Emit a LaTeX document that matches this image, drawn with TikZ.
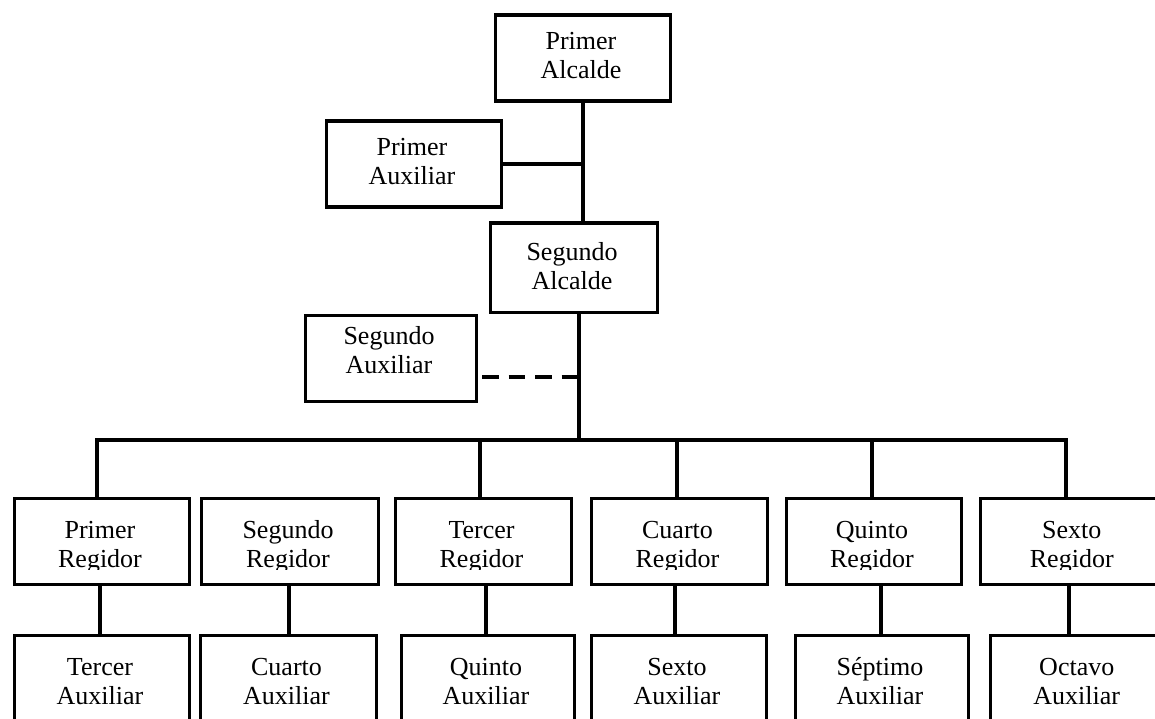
\documentclass[tikz,border=0pt]{standalone}
\usepackage{fontspec}
\setmainfont{Liberation Serif}
\begin{document}
\begin{tikzpicture}[x=1pt,y=-1pt,
  boxstyle/.style={draw=black,line width=3.2pt,inner sep=0pt,anchor=north west},
  conn/.style={line width=3.4pt},
  dashconn/.style={line width=3.4pt,dash pattern=on 16.5pt off 10pt},
  lbl/.style={anchor=base,inner sep=0pt,font=\fontsize{26}{29}\selectfont}]
\useasboundingbox (0,0) rectangle (1155,719);
\clip (0,0) rectangle (1155,719);
% #1 name, #2 x1, #3 y1, #4 x2, #5 y2, #6 line1, #7 line2, #8 first baseline offset, #9 clip bottom
\newcommand\orgbox[9]{%
  \node[boxstyle,minimum width={#4pt-#2pt},minimum height={#5pt-#3pt}] (#1) at (#2,#3) {};
  \begin{scope}
    \clip (#2,#3) rectangle (#4,#9);
    \node[lbl] (#1l1) at ({(#2+#4)/2},{#3+#8}) {#6};
    \node[lbl] (#1l2) at ({(#2+#4)/2},{#3+#8+29}) {#7};
  \end{scope}}
\orgbox{PAl}{493.5}{13.5}{668.5}{99.5}{Primer}{Alcalde}{36}{99}
\orgbox{PAux}{324.5}{119.5}{499.5}{205.5}{Primer}{Auxiliar}{36}{205}
\orgbox{SAl}{488.5}{221.5}{655.5}{310.5}{Segundo}{Alcalde}{39}{310}
\orgbox{SAux}{303.5}{313.5}{474.5}{399.5}{Segundo}{Auxiliar}{31}{399}
% regidores
\orgbox{R1}{12.5}{496.5}{187.5}{582.5}{Primer}{Regidor}{42}{569}
\orgbox{R2}{199.5}{496.5}{376.5}{582.5}{Segundo}{Regidor}{42}{569}
\orgbox{R3}{393.5}{496.5}{569.5}{582.5}{Tercer}{Regidor}{42}{569}
\orgbox{R4}{589.5}{496.5}{765.5}{582.5}{Cuarto}{Regidor}{42}{569}
\orgbox{R5}{784.5}{496.5}{959.5}{582.5}{Quinto}{Regidor}{42}{569}
\orgbox{R6}{978.5}{496.5}{1165}{582.5}{Sexto}{Regidor}{42}{569}
% auxiliares
\orgbox{A3}{12.5}{633.5}{187.5}{740}{Tercer}{Auxiliar}{42}{706}
\orgbox{A4}{198.5}{633.5}{374.5}{740}{Cuarto}{Auxiliar}{42}{706}
\orgbox{A5}{399.5}{633.5}{572.5}{740}{Quinto}{Auxiliar}{42}{706}
\orgbox{A6}{589.5}{633.5}{764.5}{740}{Sexto}{Auxiliar}{42}{706}
\orgbox{A7}{793.5}{633.5}{966.5}{740}{Séptimo}{Auxiliar}{42}{706}
\orgbox{A8}{988.5}{633.5}{1165}{740}{Octavo}{Auxiliar}{42}{706}
% coordinates
\coordinate (t1) at (583,0);
\coordinate (t2) at (579,0);
\coordinate (bus) at (0,440);
\coordinate (dashy) at (0,377);
\coordinate (dashx) at (482,0);
\coordinate (busL) at (97,440);
\coordinate (busR) at (1066,440);
% connectors
\draw[conn] (PAl.south -| t1) -- (SAl.north -| t1);
\draw[conn] (PAux.east) -- (PAux.east -| t1);
\draw[conn] (SAl.south -| t2) -- ([yshift=1.7pt]bus -| t2);
\draw[dashconn] (dashx |- dashy) -- (t2 |- dashy);
\draw[conn] ([xshift=-1.7pt]busL) -- ([xshift=1.7pt]busR);
\draw[conn] (busL) -- (R1.north -| busL);
\draw[conn] (480,440) -- (R3.north -| 480,0);
\draw[conn] (677,440) -- (R4.north -| 677,0);
\draw[conn] (872,440) -- (R5.north -| 872,0);
\draw[conn] (busR) -- (R6.north -| busR);
\draw[conn] (R1.south -| 100,0) -- (A3.north -| 100,0);
\draw[conn] (R2.south -| 289,0) -- (A4.north -| 289,0);
\draw[conn] (R3.south -| 486,0) -- (A5.north -| 486,0);
\draw[conn] (R4.south -| 675,0) -- (A6.north -| 675,0);
\draw[conn] (R5.south -| 881,0) -- (A7.north -| 881,0);
\draw[conn] (R6.south -| 1069,0) -- (A8.north -| 1069,0);
\end{tikzpicture}
\end{document}
